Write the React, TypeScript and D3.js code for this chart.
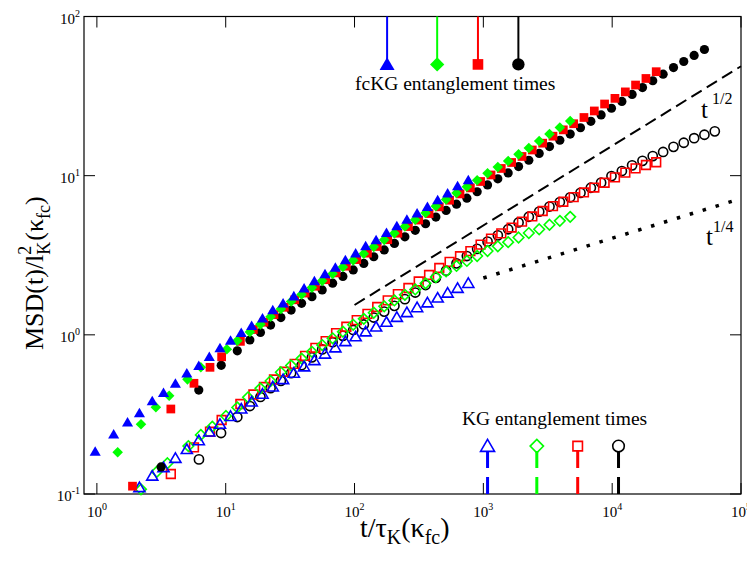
import * as d3 from "d3";

// output times shared by the black / green runs
const gridT = [15.4, 18.6, 22.3, 26.8, 32.2, 38.8, 46.7, 56.1, 67.6, 81.2, 97.7, 118, 141, 170, 204, 246, 296, 356, 428, 514, 619, 745, 895, 1078, 1295, 1558, 1876, 2254, 2713, 3261, 3924, 4722, 5675, 6830, 8206, 9876, 11890, 14280, 17190, 20650, 24860, 29920, 35950, 43270, 52000, 62600];
// output times of the red runs
const redT = [16.4, 19.8, 23.7, 28.5, 34.3, 41.3, 49.7, 59.7, 71.9, 86.4, 104, 126, 150, 181, 217, 262, 315, 379, 455, 547, 659, 793, 952, 1147, 1378, 1658, 1996, 2398, 2887, 3470, 4175, 5024, 6038, 7267, 8731, 10508, 12650, 15190, 18290, 21970];
// output times of the blue runs
const blueT = [0.97, 1.35, 1.73, 2.14, 2.69, 3.29, 4.07, 4.99, 6.18, 7.46, 9.03, 10.9, 13.2, 15.9, 19.3, 23.2, 27.9, 33.8, 40.6, 48.8, 59.0, 71.0, 84.9, 102, 122, 147, 177, 213, 255, 306, 368, 442, 528, 631, 764];

// fcKG (filled symbols)
const fcBlueT = blueT;
const fcBlueMsd = [0.185, 0.237, 0.282, 0.323, 0.384, 0.432, 0.495, 0.573, 0.640, 0.728, 0.826, 0.920, 1.03, 1.14, 1.27, 1.43, 1.58, 1.75, 1.96, 2.18, 2.41, 2.65, 2.95, 3.25, 3.61, 3.94, 4.38, 4.82, 5.31, 5.80, 6.38, 7.03, 7.74, 8.61, 9.38];
const fcGreenT = [1.45, 2.2, 2.87, 3.64, 5.05, 6.41, 10.2, 12.3, ...gridT.slice(0, 32)];
const fcGreenMsd = [0.183, 0.274, 0.351, 0.414, 0.525, 0.625, 0.811, 0.918, 1.041, 1.164, 1.299, 1.453, 1.619, 1.791, 1.980, 2.184, 2.416, 2.666, 2.938, 3.237, 3.571, 3.952, 4.347, 4.797, 5.284, 5.823, 6.433, 7.087, 7.785, 8.517, 9.357, 10.35, 11.32, 12.37, 13.61, 14.93, 16.52, 18.28, 20.08, 22.03];
const fcRedT = [1.89, 3.75, 5.67, 7.55, 9.3, 13.0, ...redT];
const fcRedMsd = [0.112, 0.342, 0.496, 0.625, 0.728, 0.91, 1.08, 1.20, 1.34, 1.49, 1.66, 1.83, 2.02, 2.22, 2.45, 2.70, 2.97, 3.26, 3.59, 3.96, 4.35, 4.79, 5.26, 5.78, 6.37, 7.01, 7.68, 8.38, 9.19, 10.1, 11.1, 12.1, 13.2, 14.5, 16.0, 17.7, 19.4, 21.2, 23.2, 25.5, 28.2, 30.6, 33.6, 37.1, 40.8, 45.0];
const fcBlackT = [3.15, 6.18, 9.23, 12.3, ...gridT.slice(0, 45)];
const fcBlackMsd = [0.148, 0.450, 0.643, 0.794, 0.928, 1.034, 1.152, 1.284, 1.430, 1.577, 1.738, 1.914, 2.112, 2.327, 2.557, 2.809, 3.094, 3.415, 3.752, 4.126, 4.533, 4.987, 5.495, 6.046, 6.622, 7.222, 7.922, 8.744, 9.55, 10.40, 11.41, 12.50, 13.79, 15.23, 16.69, 18.25, 20.00, 21.94, 24.09, 26.51, 29.29, 32.37, 35.76, 39.47, 43.41, 47.76, 52.17, 56.98, 62.04];

// KG (open symbols)
const kgBlueT = blueT.slice(3);
const kgBlueMsd = [0.110, 0.130, 0.147, 0.168, 0.191, 0.217, 0.246, 0.275, 0.308, 0.343, 0.380, 0.425, 0.472, 0.525, 0.576, 0.631, 0.691, 0.759, 0.831, 0.910, 0.976, 1.047, 1.123, 1.203, 1.292, 1.384, 1.486, 1.594, 1.708, 1.834, 1.965, 2.110];
const kgGreenT = [2.2, 2.92, 3.53, 5.13, 6.41, 7.87, 10.05, 12.3, 14.9, ...gridT.slice(1, 32)];
const kgGreenMsd = [0.107, 0.138, 0.156, 0.200, 0.235, 0.265, 0.309, 0.350, 0.405, 0.461, 0.513, 0.582, 0.642, 0.709, 0.782, 0.862, 0.951, 1.047, 1.157, 1.260, 1.377, 1.510, 1.645, 1.784, 1.929, 2.106, 2.307, 2.502, 2.709, 2.912, 3.130, 3.365, 3.597, 3.823, 4.086, 4.360, 4.607, 4.915, 5.201, 5.511];
const kgRedT = [3.75, 5.67, 7.55, 9.3, 13.0, ...redT];
const kgRedMsd = [0.1335, 0.1965, 0.246, 0.2916, 0.3675, 0.422, 0.470, 0.524, 0.586, 0.657, 0.738, 0.829, 0.914, 1.025, 1.124, 1.237, 1.355, 1.495, 1.645, 1.802, 1.968, 2.162, 2.378, 2.628, 2.874, 3.117, 3.360, 3.687, 4.026, 4.341, 4.721, 5.142, 5.543, 6.000, 6.442, 6.858, 7.328, 7.844, 8.420, 9.025, 9.757, 10.46, 11.11, 11.67, 12.14];
const kgBlackT = [6.2, 9.2, 12.3, ...gridT];
const kgBlackMsd = [0.165, 0.2416, 0.3046, 0.357, 0.407, 0.463, 0.514, 0.575, 0.644, 0.722, 0.810, 0.899, 0.986, 1.073, 1.162, 1.284, 1.399, 1.521, 1.676, 1.844, 2.055, 2.280, 2.531, 2.813, 3.126, 3.469, 3.849, 4.217, 4.607, 5.082, 5.519, 5.940, 6.397, 6.828, 7.307, 7.798, 8.395, 9.036, 9.94, 10.69, 11.61, 12.39, 13.28, 14.09, 15.17, 16.10, 17.20, 18.07, 18.98];

// entanglement times
const fcEntT = [179, 438, 908, 1870];
const kgEntT = [1078, 2600, 5400, 11200];
const entShapes = ["triangle", "diamond", "square", "circle"];
const entColors = ["#0000ff", "#00ff00", "#ff0000", "#000000"];

// power-law guides: [t, msd] end points
const halfGuide = [[100, 1.54], [100000, 48.7]];
const quarterGuide = [[1000, 2.275], [100000, 7.19]];

const xTicks = [1, 10, 100, 1000, 10000, 100000];
const yTicks = [0.1, 1, 10, 100];

const series = [
  { t: kgBlackT, v: kgBlackMsd, shape: "circle", color: "#000000", filled: false },
  { t: kgRedT, v: kgRedMsd, shape: "square", color: "#ff0000", filled: false },
  { t: kgGreenT, v: kgGreenMsd, shape: "diamond", color: "#00ff00", filled: false },
  { t: kgBlueT, v: kgBlueMsd, shape: "triangle", color: "#0000ff", filled: false },
  { t: fcBlackT, v: fcBlackMsd, shape: "circle", color: "#000000", filled: true },
  { t: fcRedT, v: fcRedMsd, shape: "square", color: "#ff0000", filled: true },
  { t: fcGreenT, v: fcGreenMsd, shape: "diamond", color: "#00ff00", filled: true },
  { t: fcBlueT, v: fcBlueMsd, shape: "triangle", color: "#0000ff", filled: true },
];

const font = "'Liberation Serif', 'Times New Roman', serif";

function Marker({ shape, x, y, s, color, filled }: { shape: string; x: number; y: number; s: number; color: string; filled: boolean }) {
  const fill = filled ? color : "none";
  const stroke = filled ? "none" : color;
  const sw = 1.6;
  if (shape === "circle") {
    return <circle cx={x} cy={y} r={s} fill={fill} stroke={stroke} strokeWidth={sw} />;
  }
  let d = "";
  if (shape === "square") {
    const h = s * 0.95;
    d = `M${-h},${-h}H${h}V${h}H${-h}Z`;
  } else if (shape === "diamond") {
    const h = s * 1.15;
    d = `M0,${-h}L${h},0L0,${h}L${-h},0Z`;
  } else {
    const h = s * 1.15;
    d = `M0,${-h}L${h * 1.05},${h * 0.8}L${-h * 1.05},${h * 0.8}Z`;
  }
  return <path d={d} transform={`translate(${x},${y})`} fill={fill} stroke={stroke} strokeWidth={sw} strokeLinejoin="miter" />;
}

const App: React.FC = () => {
  const width = 747;
  const height = 578;
  const left = 84, right = 741, top = 16.5, bottom = 494;

  const x = d3.scaleLog().domain([Math.pow(10, -0.1), 1e5]).range([left, right]);
  const y = d3.scaleLog().domain([0.1, 100]).range([bottom, top]);
  const line = d3.line<number[]>().x(d => x(d[0])).y(d => y(d[1]));

  const tick = 11;
  const exp = (v: number) => String(Math.round(Math.log10(v)));

  return (
    <div style={{ position: "fixed", left: 0, top: 0 }}>
      <svg width={width} height={height} viewBox={`0 0 ${width} ${height}`} style={{ display: "block", background: "#fff" }} fontFamily={font}>
        {/* frame */}
        <rect x={left} y={top} width={right - left} height={bottom - top} fill="none" stroke="#000" strokeWidth={1.2} />

        {/* ticks */}
        {xTicks.map(t => (
          <g key={"xt" + t}>
            <line x1={x(t)} x2={x(t)} y1={bottom} y2={bottom - tick} stroke="#000" strokeWidth={1} />
            <line x1={x(t)} x2={x(t)} y1={top} y2={top + tick} stroke="#000" strokeWidth={1} />
            <text x={x(t)} y={517} textAnchor="middle" fontSize={15}>
              10<tspan fontSize={10} dy={-7}>{exp(t)}</tspan>
            </text>
          </g>
        ))}
        {yTicks.map(v => (
          <g key={"yt" + v}>
            <line x1={left} x2={left + tick} y1={y(v)} y2={y(v)} stroke="#000" strokeWidth={1} />
            <line x1={right} x2={right - tick} y1={y(v)} y2={y(v)} stroke="#000" strokeWidth={1} />
            <text x={80} y={y(v) + 7} textAnchor="end" fontSize={15}>
              10<tspan fontSize={10} dy={-7}>{exp(v)}</tspan>
            </text>
          </g>
        ))}

        {/* guides */}
        <path d={line(halfGuide) ?? ""} fill="none" stroke="#000" strokeWidth={2} strokeDasharray="12 6" />
        <path d={line(quarterGuide) ?? ""} fill="none" stroke="#000" strokeWidth={3.5} strokeDasharray="3.5 10" />

        {/* data */}
        {series.map((s, i) => (
          <g key={"s" + i}>
            {s.t.map((t, j) => (
              <Marker key={j} shape={s.shape} x={x(t)} y={y(s.v[j])} s={4.6} color={s.color} filled={s.filled} />
            ))}
          </g>
        ))}

        {/* fcKG entanglement times */}
        {fcEntT.map((t, i) => (
          <g key={"fe" + i}>
            <line x1={x(t)} x2={x(t)} y1={y(100)} y2={y(50)} stroke={entColors[i]} strokeWidth={2} />
            <Marker shape={entShapes[i]} x={x(t)} y={y(50)} s={entShapes[i] === "square" ? 5.6 : 6.2} color={entColors[i]} filled={true} />
          </g>
        ))}
        <text x={355} y={90} fontSize={19.5}>fcKG entanglement times</text>

        {/* KG entanglement times */}
        {kgEntT.map((t, i) => (
          <g key={"ke" + i}>
            <line x1={x(t)} x2={x(t)} y1={y(0.1)} y2={y(0.2) + 5} stroke={entColors[i]} strokeWidth={3} strokeDasharray="17 9" />
            <Marker shape={entShapes[i]} x={x(t)} y={y(0.2)} s={entShapes[i] === "square" ? 5 : 5.8} color={entColors[i]} filled={false} />
          </g>
        ))}
        <text x={462} y={425} fontSize={19.5}>KG entanglement times</text>

        {/* guide labels */}
        <text x={701} y={118} fontSize={25}>t</text>
        <text x={712} y={104} fontSize={16}>1/2</text>
        <text x={706} y={245} fontSize={25}>t</text>
        <text x={713} y={232} fontSize={16}>1/4</text>

        {/* axis titles */}
        <text x={360} y={537} fontSize={28}>
          t/τ<tspan fontSize={20} dy={7}>K</tspan><tspan dy={-7}>(κ</tspan><tspan fontSize={20} dy={7}>fc</tspan><tspan dy={-7}>)</tspan>
        </text>
        <text transform="rotate(-90)" x={-350} y={43} fontSize={26}>
          MSD(t)/l<tspan fontSize={18} dy={7}>K</tspan><tspan fontSize={18} dx={-13} dy={-19}>2</tspan><tspan dx={5} dy={12}>(κ</tspan><tspan fontSize={18} dy={7}>fc</tspan><tspan dy={-7}>)</tspan>
        </text>
      </svg>
    </div>
  );
};

export default App;
